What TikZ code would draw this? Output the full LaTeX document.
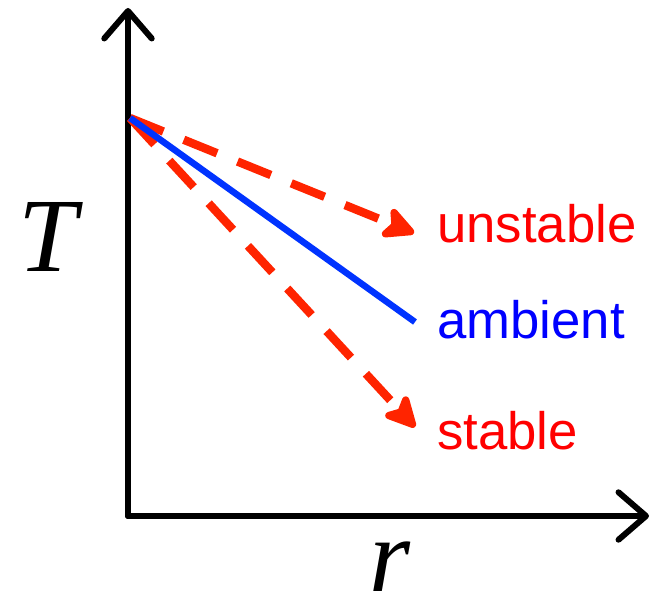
\documentclass[tikz,border=0pt]{standalone}
\usepackage{fontspec}
\setmainfont{Liberation Sans}
\newfontfamily\varfont{Liberation Serif}
\definecolor{labelred}{RGB}{255,0,0}
\definecolor{arrowred}{RGB}{255,36,0}
\definecolor{ambblue}{RGB}{0,51,255}
\definecolor{textblue}{RGB}{0,0,255}
\usepackage{tikz}
\usetikzlibrary{
  arrows.meta,
  positioning
}

\begin{document}
\begin{tikzpicture}[
  x=0.02cm, y=-0.02cm,
  axis/.style={line width=3.4pt, line cap=round, -{Straight Barb[round, length=0.55cm, width=0.95cm]}},
  ambline/.style={line width=3.7pt, ambblue},
  trial/.style={line width=4.8pt, arrowred, dash pattern=on 0.72cm off 0.44cm, -{Stealth[length=0.76cm, width=0.76cm, inset=0.18cm, round]}},
  lbl/.style={anchor=base west, inner sep=0pt, font=\fontsize{30}{30}\selectfont},
  var/.style={anchor=base, inner sep=0pt, font=\varfont\itshape\fontsize{60}{60}\selectfont}
]
  \useasboundingbox (0,0) rectangle (654,601);

  % axes
  \coordinate (origin) at (128,516);
  \coordinate (ytop) at (128,8);
  \coordinate (xend) at (649,516);
  \draw[axis] (origin) -- (ytop);
  \draw[axis] (origin) -- (xend);

  % profiles
  \coordinate (start) at (130,118);
  \coordinate (ambend) at (415,322);
  \coordinate (unsend) at (414,233);
  \coordinate (stbend) at (415,427);
  \draw[trial] (start) -- (unsend);
  \draw[trial] (start) -- (stbend);
  \draw[ambline] (start) -- (ambend);

  % labels
  \node[lbl, text=labelred] (unstable) at (437,243) {unstable};
  \node[lbl, text=textblue] (ambient) at (437,339) {ambient};
  \node[lbl, text=labelred] (stable) at (437,450) {stable};
  \node[var] (tlabel) at (48,272) {T};
  \node[var] (rlabel) at (390,592) {r};
\end{tikzpicture}
\end{document}
